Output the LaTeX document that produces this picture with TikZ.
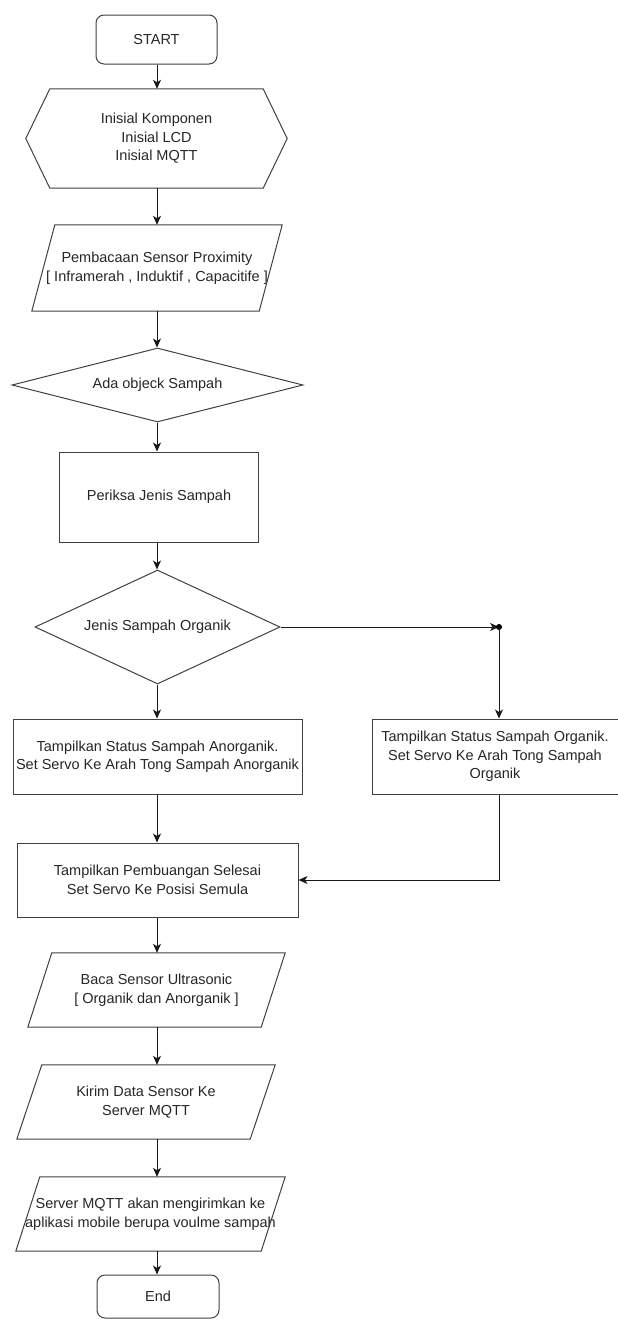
\documentclass[tikz,border=0pt]{standalone}
\usepackage{fontspec}
\setmainfont{Liberation Sans}
\usetikzlibrary{shapes.geometric,arrows.meta}
\newcommand\drawpara[2]{\draw[shapeline] ([xshift=#2pt]#1.north west) -- (#1.north east) -- ([xshift=-#2pt]#1.south east) -- (#1.south west) -- cycle;}
\begin{document}
\begin{tikzpicture}[x=1pt,y=-1pt,
  every node/.style={font=\fontsize{14.5}{18.5}\selectfont, align=center, inner sep=0pt, text=black!85},
  shapeline/.style={draw=black!75, line width=1pt},
  proc/.style={shapeline, rectangle},
  term/.style={shapeline, rectangle, rounded corners=8pt},
  dec/.style={shapeline, diamond},
  io/.style={rectangle, draw=none},
  conn/.style={draw=black!90, line width=1pt, -{Stealth[length=9pt,width=8pt,inset=2.5pt]}},
  plain/.style={draw=black!90, line width=1pt}
]
\useasboundingbox (0,0) rectangle (618,1320);

\coordinate (col) at (157,0);

\node[term, minimum width=121pt, minimum height=49pt] (start) at (156.5,39.5) {START};

\node[io, minimum width=261pt, minimum height=99pt] (init) at (156.5,138.5) {Inisial Komponen\\Inisial LCD\\Inisial MQTT};
\draw[shapeline] (init.west) -- ([xshift=24pt]init.north west) -- ([xshift=-24pt]init.north east) -- (init.east) -- ([xshift=-24pt]init.south east) -- ([xshift=24pt]init.south west) -- cycle;

\node[io, minimum width=250pt, minimum height=86pt] (read) at (157,268) {Pembacaan Sensor Proximity\\{[} Inframerah , Induktif , Capacitife ]};
\drawpara{read}{23}

\node[dec, minimum width=291pt, minimum height=74pt, aspect=3.9] (obj) at (157.5,385) {Ada objeck Sampah};

\node[proc, minimum width=199pt, minimum height=90pt] (check) at (159,497) {Periksa Jenis Sampah};

\node[dec, minimum width=245pt, minimum height=114pt, aspect=2.15] (org) at (157.5,627) {Jenis Sampah Organik};

\coordinate (j) at (499,627);

\node[proc, minimum width=289pt, minimum height=75pt] (anorg) at (157.5,756.5) {Tampilkan Status Sampah Anorganik.\\Set Servo Ke Arah Tong Sampah Anorganik};

\node[proc, minimum width=246pt, minimum height=75pt] (orgbox) at (495,756.5) {Tampilkan Status Sampah Organik.\\Set Servo Ke Arah Tong Sampah\\Organik};

\node[proc, minimum width=281pt, minimum height=74pt] (pemb) at (157.5,880) {Tampilkan Pembuangan Selesai\\Set Servo Ke Posisi Semula};

\node[io, minimum width=257pt, minimum height=74pt] (ultra) at (156.5,990) {Baca Sensor Ultrasonic\\{[} Organik dan Anorganik ]};
\drawpara{ultra}{24}

\node[io, minimum width=258pt, minimum height=74pt] (kirim) at (146,1102) {Kirim Data Sensor Ke\\Server MQTT};
\drawpara{kirim}{25}

\node[io, minimum width=269pt, minimum height=74pt] (last) at (150.5,1214) {Server MQTT akan mengirimkan ke\\aplikasi mobile berupa voulme sampah};
\drawpara{last}{24}

\node[term, minimum width=122pt, minimum height=43pt] (end) at (158,1296.5) {End};

% connectors
\draw[conn] (start.south -| col) -- (init.north -| col);
\draw[conn] (init.south -| col) -- (read.north -| col);
\draw[conn] (read.south -| col) -- (obj.north -| col);
\draw[conn] (obj.south -| col) -- (check.north -| col);
\draw[conn] (check.south -| col) -- (org.north -| col);
\draw[conn] (org.south -| col) -- (anorg.north -| col);
\draw[conn] (org.east) -- (j);
\fill[black] (j) circle (3pt);
\draw[conn] (j) -- (j |- orgbox.north);
\draw[conn] (anorg.south -| col) -- (pemb.north -| col);
\draw[conn] (j |- orgbox.south) |- (pemb.east);
\draw[conn] (pemb.south -| col) -- (ultra.north -| col);
\draw[conn] (ultra.south -| col) -- (kirim.north -| col);
\draw[conn] (kirim.south -| col) -- (last.north -| col);
\draw[conn] (last.south -| col) -- (end.north -| col);
\end{tikzpicture}
\end{document}
